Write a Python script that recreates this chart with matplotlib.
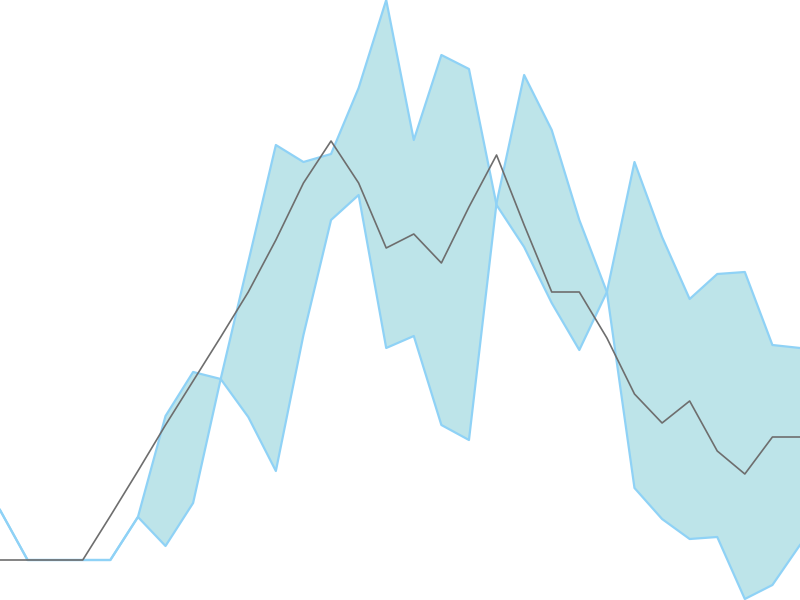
import matplotlib
matplotlib.use("Agg")
import matplotlib.pyplot as plt
import numpy as np

# values (units: pixel height above bottom / 10)
s1_px = [510, 560, 560, 560, 560, 517, 416, 372, 379, 262, 145, 162, 154, 88, 0, 140, 55, 69, 205,
         247, 303, 350, 292, 162, 237, 299, 274, 272, 345, 348]
s2_px = [510, 560, 560, 560, 560, 517, 546, 503, 379, 417, 471, 335, 220, 195, 348, 336, 425, 440, 203,
         75, 130, 220, 292, 488, 519, 539, 537, 599, 585, 545]
mid_px = [560, 560, 560, 560, 516, 471, 425, 381, 337, 292, 240, 183, 141, 183, 248, 234, 263, 207, 155,
          225, 292, 292, 338, 394, 423, 401, 451, 474, 437, 437]

series_a = [(600 - v) / 10 for v in s1_px]
series_b = [(600 - v) / 10 for v in s2_px]
series_mid = [(600 - v) / 10 for v in mid_px]
x = np.arange(len(series_a))

fig = plt.figure(figsize=(8, 6), dpi=100)
ax = fig.add_axes([0, 0, 1, 1])
ax.fill_between(x, series_a, series_b, color="#bde4e9", linewidth=0, zorder=1)
ax.plot(x, series_a, color="#8fd2f6", linewidth=1.6, zorder=2)
ax.plot(x, series_b, color="#8fd2f6", linewidth=1.6, zorder=2)
ax.plot(x, series_mid, color="#6e6e6e", linewidth=1.2, zorder=3)
ax.set_xlim(0, len(x) - 1)
ax.set_ylim(0, 60)
ax.axis("off")
fig.savefig("out.png", dpi=100)
